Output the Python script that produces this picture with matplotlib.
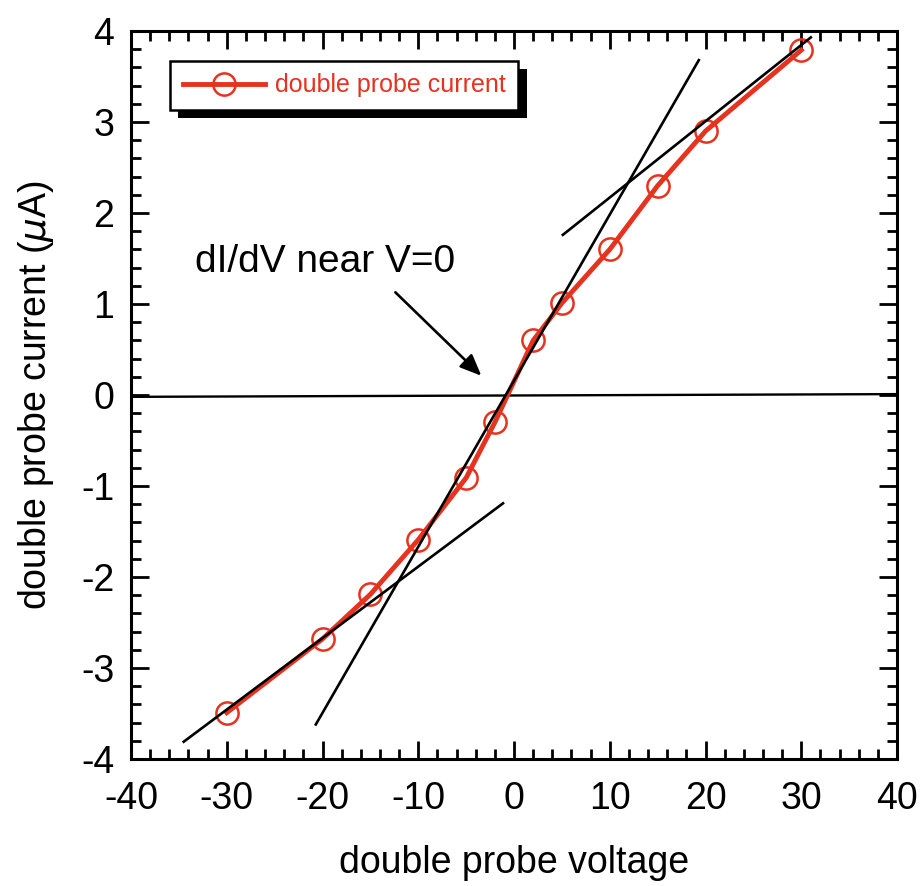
import matplotlib.pyplot as plt
import matplotlib.patheffects as pe
from matplotlib.ticker import MultipleLocator

plt.rcParams['font.family'] = ['Liberation Sans', 'DejaVu Sans']
plt.rcParams['axes.unicode_minus'] = False

# measured points
voltage = [-30, -20, -15, -10, -5, -2, 2, 5, 10, 15, 20, 30]
current = [-3.49, -2.68, -2.19, -1.59, -0.91, -0.30, 0.60, 1.01, 1.60, 2.30, 2.90, 3.79]

# hand drawn fit lines (x pair, y pair)
zero_x = [-40, 40]
zero_y = [-0.02, 0.01]
slope_x = [-20.7, 19.3]
slope_y = [-3.62, 3.68]
upper_x = [5.1, 31.0]
upper_y = [1.76, 3.93]
lower_x = [-34.5, -1.15]
lower_y = [-3.81, -1.19]

red = '#e6321e'

fig = plt.figure(figsize=(9.24, 8.86), dpi=100)
ax = fig.add_axes([0.1418, 0.1433, 0.829, 0.8217])

ax.plot(zero_x, zero_y, color='k', lw=1.7)
ax.plot(voltage, current, color=red, lw=3.5, marker='o', ms=16,
        mfc='none', mec=red, mew=1.8, label='double probe current', zorder=3)
for xs, ys in [(slope_x, slope_y), (upper_x, upper_y), (lower_x, lower_y)]:
    ax.plot(xs, ys, color='k', lw=1.9, zorder=4)

ax.annotate('', xy=(-3.2, 0.19), xytext=(-12.6, 1.15),
            arrowprops=dict(arrowstyle='-|>,head_length=1.3,head_width=0.55',
                            color='k', lw=1.9))
ax.text(-33.3, 1.46, 'dI/dV near V=0', fontsize=28, va='center', ha='left')

ax.set_xlim(-40, 40)
ax.set_ylim(-4, 4)
ax.xaxis.set_major_locator(MultipleLocator(10))
ax.xaxis.set_minor_locator(MultipleLocator(2))
ax.yaxis.set_major_locator(MultipleLocator(1))
ax.yaxis.set_minor_locator(MultipleLocator(0.2))
ax.tick_params(which='both', direction='in', top=True, right=True,
               width=2, labelsize=27)
ax.tick_params(which='major', length=13)
ax.tick_params(axis='x', which='major', pad=16)
ax.tick_params(axis='y', which='major', pad=12)
ax.tick_params(which='minor', length=7)
for s in ax.spines.values():
    s.set_linewidth(2.2)

ax.set_xlabel('double probe voltage', fontsize=27, labelpad=20)
ax.set_ylabel(r'double probe current ($\mu$A)', fontsize=27, labelpad=18)

leg = ax.legend(loc='upper left', bbox_to_anchor=(0.051, 0.959), borderaxespad=0,
                fontsize=18, handlelength=3.3, fancybox=False, framealpha=1,
                edgecolor='k', borderpad=0.5, handletextpad=0.4)
leg.get_frame().set_linewidth(1.8)
leg.legendPatch.set_path_effects([
    pe.SimplePatchShadow(offset=(6, -6), shadow_rgbFace='k', alpha=1),
    pe.Normal()])
for t in leg.get_texts():
    t.set_color(red)

fig.savefig('out.png', dpi=100)
